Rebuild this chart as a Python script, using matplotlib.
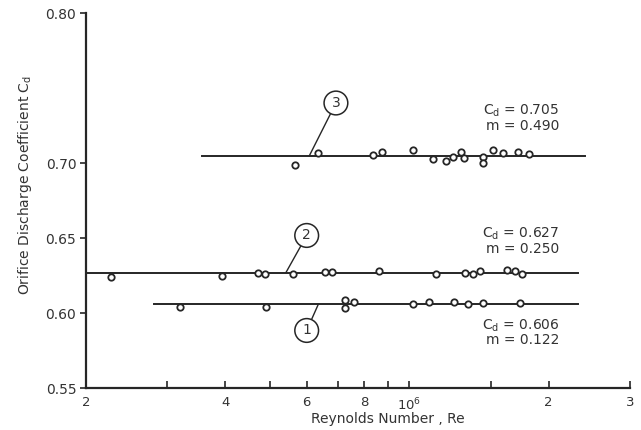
import matplotlib
matplotlib.use("Agg")
import matplotlib.pyplot as plt
from matplotlib.ticker import FixedLocator, FixedFormatter, NullFormatter

# ---- data ----
# Curve 1 (Cd = 0.606, m = 0.122)
re1 = [3.2e5, 4.9e5, 7.27e5, 7.27e5, 7.6e5, 1.02e6, 1.105e6, 1.25e6, 1.34e6, 1.44e6, 1.735e6]
cd1 = [0.6039, 0.6039, 0.6086, 0.6034, 0.6077, 0.6059, 0.6077, 0.6077, 0.6059, 0.6066, 0.6070]
fit1 = 0.606
span1 = [2.81e5, 2.32e6]

# Curve 2 (Cd = 0.627, m = 0.250)
re2 = [2.27e5, 3.94e5, 4.70e5, 4.88e5, 5.60e5, 6.58e5, 6.81e5, 8.61e5, 1.143e6,
       1.317e6, 1.37e6, 1.42e6, 1.625e6, 1.69e6, 1.756e6]
cd2 = [0.6241, 0.6248, 0.6270, 0.6263, 0.6263, 0.6271, 0.6271, 0.6279, 0.6264,
       0.6268, 0.6263, 0.6280, 0.6287, 0.6280, 0.6259]
fit2 = 0.627
span2 = [2.0e5, 2.32e6]

# Curve 3 (Cd = 0.705, m = 0.490)
re3 = [5.66e5, 6.34e5, 8.34e5, 8.74e5, 1.02e6, 1.124e6, 1.20e6, 1.245e6, 1.296e6,
       1.313e6, 1.442e6, 1.442e6, 1.514e6, 1.598e6, 1.716e6, 1.818e6]
cd3 = [0.6988, 0.7066, 0.7056, 0.7073, 0.7090, 0.7027, 0.7013, 0.7040, 0.7077,
       0.7032, 0.7040, 0.7004, 0.7090, 0.7066, 0.7077, 0.7061]
fit3 = 0.705
span3 = [3.56e5, 2.40e6]

curve_ids = ["1", "2", "3"]
cd_labels = ["0.606", "0.627", "0.705"]
m_labels = ["0.122", "0.250", "0.490"]

x_major = [2e5, 4e5, 6e5, 8e5, 1e6, 2e6, 3e6]
x_major_labels = ["2", "4", "6", "8", r"$10^6$", "2", "3"]
x_minor = [3e5, 5e5, 7e5, 9e5, 1.5e6]
y_ticks = [0.55, 0.60, 0.65, 0.70, 0.80]
y_tick_labels = ["0.55", "0.60", "0.65", "0.70", "0.80"]

ink = "#262626"
txt = "#333333"

fig = plt.figure(figsize=(6.41, 4.30), dpi=100)
ax = fig.add_axes([86 / 641, 1 - 388 / 430, 544 / 641, (388 - 13.4) / 430])
ax.set_xscale("log")
ax.set_xlim(2e5, 3e6)
ax.set_ylim(0.55, 0.80)

for span, fit, re, cd in [(span1, fit1, re1, cd1), (span2, fit2, re2, cd2), (span3, fit3, re3, cd3)]:
    ax.plot(span, [fit, fit], color=ink, lw=1.4, zorder=2)
    ax.plot(re, cd, linestyle="none", marker="o", ms=4.6, mfc="white", mec=ink, mew=1.3, zorder=3)

# circled curve numbers with leader lines
circle_pos = [(6.0e5, 0.5884), (6.0e5, 0.6518), (6.94e5, 0.7402)]
leader_end = [(6.36e5, fit1), (5.41e5, fit2), (6.08e5, fit3)]
for cid, (cx, cy), (lx, ly) in zip(curve_ids, circle_pos, leader_end):
    ax.annotate(cid, xy=(lx, ly), xytext=(cx, cy), ha="center", va="center",
                fontsize=10, color=txt,
                bbox=dict(boxstyle="circle,pad=0.35", fc="white", ec=ink, lw=1.1),
                arrowprops=dict(arrowstyle="-", color=ink, lw=1.0, shrinkA=0, shrinkB=0),
                zorder=4)

# Cd / m annotations
cd_y = [0.5914, 0.6527, 0.7348]
m_y = [0.5818, 0.6429, 0.7250]
for cdl, ml, yc, ym in zip(cd_labels, m_labels, cd_y, m_y):
    ax.text(2.11e6, yc, r"C$_{\mathrm{d}}$ = " + cdl, ha="right", va="center", fontsize=10, color=txt)
    ax.text(2.11e6, ym, "m = " + ml, ha="right", va="center", fontsize=10, color=txt)

# axes styling
for s in ["top", "right"]:
    ax.spines[s].set_visible(False)
for s in ["left", "bottom"]:
    ax.spines[s].set_linewidth(1.6)
    ax.spines[s].set_color(ink)

ax.xaxis.set_major_locator(FixedLocator(x_major))
ax.xaxis.set_major_formatter(FixedFormatter(x_major_labels))
ax.xaxis.set_minor_locator(FixedLocator(x_minor))
ax.xaxis.set_minor_formatter(NullFormatter())
ax.tick_params(axis="x", which="both", direction="in", colors=ink, labelcolor=txt,
               labelsize=9.5, pad=6, width=1.2)
ax.tick_params(axis="x", which="major", length=5)
ax.tick_params(axis="x", which="minor", length=5)

ax.set_yticks(y_ticks)
ax.set_yticklabels(y_tick_labels)
ax.tick_params(axis="y", which="both", direction="out", length=4, width=1.2,
               colors=ink, labelcolor=txt, labelsize=10, pad=3)
ax.yaxis.set_minor_locator(FixedLocator([]))

ax.text(0.554, -0.084, "Reynolds Number , Re", transform=ax.transAxes,
        ha="center", va="center", fontsize=10, color=txt)
ax.text(-0.112, 0.542, r"Orifice Discharge Coefficient C$_{\mathrm{d}}$", transform=ax.transAxes,
        ha="center", va="center", rotation=90, fontsize=10, color=txt)

fig.savefig("out.png", dpi=100)
